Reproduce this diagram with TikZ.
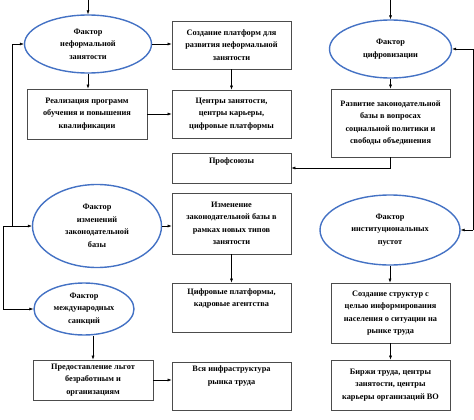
\documentclass[tikz,border=0pt]{standalone}
\usepackage{fontspec}
\setmainfont{Liberation Serif}
\usetikzlibrary{shapes.geometric,arrows.meta}
\begin{document}
\begin{tikzpicture}[x=1pt,y=-1pt,
  font=\fontsize{8.3}{12.5}\selectfont\bfseries,
  ell/.style={ellipse,draw={rgb,255:red,68;green,114;blue,196},line width=1.4pt,inner sep=0pt,align=center},
  box/.style={draw=black!70,line width=0.7pt,align=center,inner sep=1pt},
  arr/.style={-{Latex[length=4pt,width=3pt]},line width=0.5pt}]
\useasboundingbox (0,0) rectangle (474,420);
% nodes
\node[ell,minimum width=127pt,minimum height=58pt] (e1) at (88,44) {Фактор\\неформальной\\занятости};
\node[box,minimum width=119pt,minimum height=48pt] (b2) at (231.5,45) {Создание платформ для\\развития неформальной\\занятости};
\node[ell,minimum width=122pt,minimum height=58pt] (e3) at (390.5,49) {Фактор\\цифровизации};
\node[box,minimum width=120pt,minimum height=50pt] (b4) at (87,114) {Реализация программ\\обучения и повышения\\квалификации};
\node[box,minimum width=119pt,minimum height=48pt] (b5) at (231.5,114) {Центры занятости,\\центры карьеры,\\цифровые платформы};
\node[box,minimum width=119pt,minimum height=68pt] (b6) at (390.5,123) {Развитие законодательной\\базы в вопросах\\социальной политики и\\свободы объединения};
\node[box,minimum width=119pt,minimum height=30pt,text depth=14pt] (b7) at (231.5,168) {Профсоюзы};
\node[ell,minimum width=129pt,minimum height=83pt] (e8) at (97,226) {Фактор\\изменений\\законодательной\\базы};
\node[box,minimum width=119pt,minimum height=61pt] (b9) at (231.5,223.5) {Изменение\\законодательной базы в\\рамках новых типов\\занятости};
\node[ell,minimum width=140pt,minimum height=70pt] (e10) at (390,230) {Фактор\\институциональных\\пустот};
\node[ell,minimum width=100pt,minimum height=52pt] (e11) at (84,309) {Фактор\\международных\\санкций};
\node[box,minimum width=119pt,minimum height=49pt,text depth=20pt] (b12) at (231.5,307.5) {Цифровые платформы,\\кадровые агентства};
\node[box,minimum width=119pt,minimum height=60pt] (b13) at (390.5,313) {Создание структур с\\целью информирования\\населения о ситуации на\\рынке труда};
\node[box,minimum width=120pt,minimum height=40pt] (b14) at (93,380) {Предоставление льгот\\безработным и\\организациям};
\node[box,minimum width=119pt,minimum height=48pt,text depth=22pt] (b15) at (231.5,386) {Вся инфраструктура\\рынка труда};
\node[box,minimum width=119pt,minimum height=50pt] (b16) at (390.5,385) {Биржи труда, центры\\занятости, центры\\карьеры организаций ВО};
% free ends
\coordinate (t1) at (88,0);
\coordinate (t3) at (390.5,0);
\coordinate (ra) at (473,49);
\coordinate (rb) at (473,230);
\coordinate (la) at (12,44);
\coordinate (lb) at (12,226);
\coordinate (lc) at (3,226);
\coordinate (ld) at (3,309);
% connectors
\draw[arr] (t1) -- (e1.north);
\draw[arr] (t3) -- (e3.north);
\draw[arr] (e1.east) -- (b2.west |- e1.east);
\draw[arr] (b2.south) -- (b5.north);
\draw[arr] (e1.south) -- (e1.south |- b4.north);
\draw[arr] (b4.east) -- (b5.west);
\draw[arr] (e3.south) -- (e3.south |- b6.north);
\draw[arr] (b6.south) |- (b7.east);
\draw[arr] (rb) -- (ra) -- (e3.east);
\draw[arr] (rb) -- (e10.east);
\draw[arr] (lb) -- (la) -- (e1.west);
\draw[arr] (lc) -- (e8.west);
\draw[arr] (lc) -- (ld) -- (e11.west);
\draw[arr] (e8.east) -- (b9.west |- e8.east);
\draw[arr] (b9.south) -- (b12.north);
\draw[arr] (e10.south) -- (e10.south |- b13.north);
\draw[arr] (b13.south) -- (b16.north);
\draw[arr] (b14.north |- e11.south) -- (b14.north);
\draw[arr] (b14.east) -- (b15.west |- b14.east);
\end{tikzpicture}
\end{document}
